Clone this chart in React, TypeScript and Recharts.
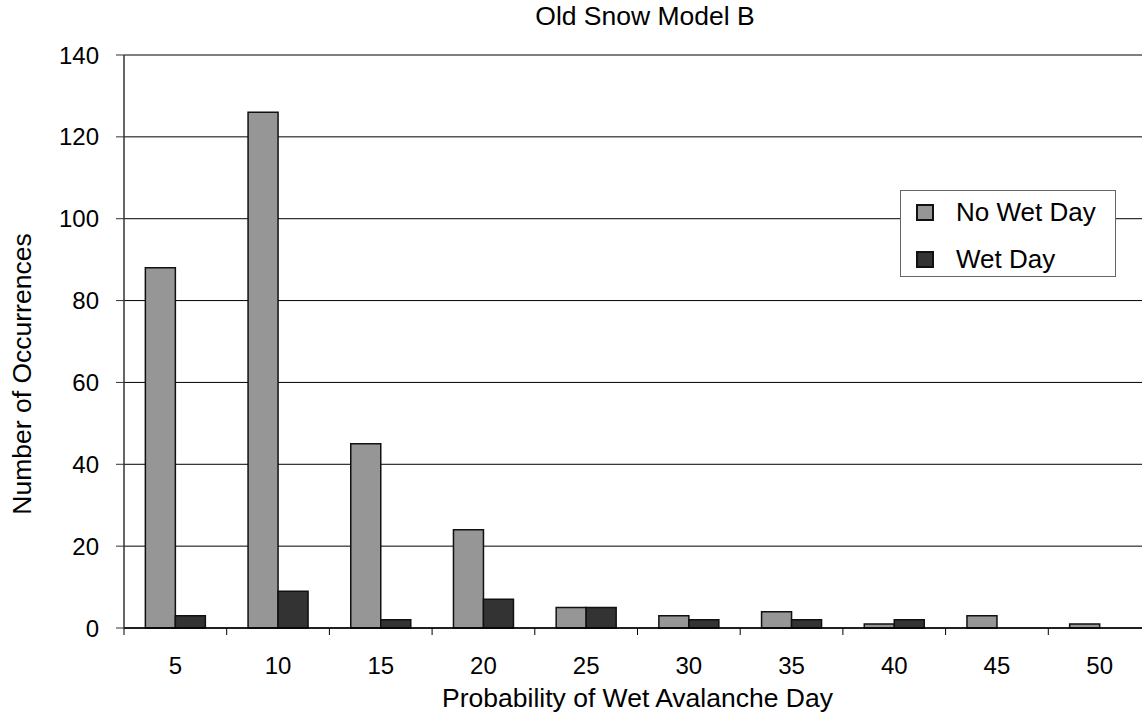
import React from "react";
import { Bar, BarChart, CartesianGrid, Legend, XAxis, YAxis } from "recharts";

const categories = ["5", "10", "15", "20", "25", "30", "35", "40", "45", "50"];
const noWetDay = [88, 126, 45, 24, 5, 3, 4, 1, 3, 1];
const wetDay = [3, 9, 2, 7, 5, 2, 2, 2, 0, 0];
const yTicks = [0, 20, 40, 60, 80, 100, 120, 140];

const data = categories.map((prob, i) => ({
  prob,
  noWet: noWetDay[i],
  wet: wetDay[i],
}));

const FONT = '"Liberation Sans", Arial, sans-serif';
const X_TICK_MARGIN = 29;
const X_TICK_LEN = 7;

const CategoryTick = (props: any) => {
  const { x, y, payload, index, visibleTicksCount } = props;
  const half = payload && payload.offset ? payload.offset : 0;
  const axisY = y - X_TICK_MARGIN;
  const isLast = index === visibleTicksCount - 1;
  return (
    <g>
      <line x1={x - half} x2={x - half} y1={axisY} y2={axisY + X_TICK_LEN} stroke="#000" />
      {isLast && (
        <line x1={x + half} x2={x + half} y1={axisY} y2={axisY + X_TICK_LEN} stroke="#000" />
      )}
      <text x={x} y={y} dy="0.71em" textAnchor="middle" fontSize={24} fontFamily={FONT} fill="#000">
        {payload.value}
      </text>
    </g>
  );
};

const LegendBox = () => {
  const items = [
    { label: "No Wet Day", color: "#969696" },
    { label: "Wet Day", color: "#333333" },
  ];
  return (
    <div
      style={{
        width: 216,
        height: 87,
        border: "1px solid #666",
        background: "#fff",
        boxSizing: "border-box",
        position: "relative",
        fontFamily: FONT,
        fontSize: 26,
        color: "#000",
      }}
    >
      {items.map((it, i) => (
        <div
          key={it.label}
          style={{
            position: "absolute",
            left: 15,
            top: 4 + i * 47,
            height: 34,
            display: "flex",
            alignItems: "center",
            whiteSpace: "nowrap",
          }}
        >
          <span
            style={{
              width: 14,
              height: 13,
              background: it.color,
              border: "2px solid #111",
              display: "inline-block",
              marginRight: 22,
            }}
          />
          <span>{it.label}</span>
        </div>
      ))}
    </div>
  );
};

const App: React.FC = () => {
  return (
    <div
      style={{
        position: "fixed",
        left: 0,
        top: 0,
        width: 1142,
        height: 713,
        overflow: "hidden",
        background: "#fff",
        fontFamily: FONT,
      }}
    >
      <div
        style={{
          position: "absolute",
          left: 0,
          width: 1290,
          top: 1,
          textAlign: "center",
          fontSize: 26.5,
          lineHeight: "30px",
          color: "#000",
        }}
      >
        Old Snow Model B
      </div>
      <div
        style={{
          position: "absolute",
          left: 22,
          top: 374,
          transform: "translate(-50%, -50%) rotate(-90deg)",
          whiteSpace: "nowrap",
          fontSize: 26.5,
          lineHeight: "30px",
          color: "#000",
        }}
      >
        Number of Occurrences
      </div>
      <div
        style={{
          position: "absolute",
          left: 0,
          width: 1275,
          top: 683,
          textAlign: "center",
          fontSize: 26.5,
          lineHeight: "30px",
          color: "#000",
        }}
      >
        Probability of Wet Avalanche Day
      </div>
      <BarChart
        width={1160}
        height={713}
        data={data}
        margin={{ top: 55, right: 9, left: 0, bottom: 0 }}
        barCategoryGap="20.8%"
        barGap={0}
      >
        <CartesianGrid horizontal vertical={false} stroke="#000" strokeOpacity={1} />
        <XAxis
          dataKey="prob"
          height={85}
          tickLine={false}
          tickSize={0}
          tickMargin={X_TICK_MARGIN}
          tick={<CategoryTick />}
          axisLine={{ stroke: "#000", strokeWidth: 1.5 }}
          interval={0}
        />
        <YAxis
          width={124}
          domain={[0, 140]}
          ticks={yTicks}
          interval={0}
          tickSize={8}
          tickMargin={17}
          axisLine={{ stroke: "#333", strokeWidth: 1.5 }}
          tickLine={{ stroke: "#333" }}
          tick={{ fontSize: 24, fill: "#000", fontFamily: FONT }}
        />
        <Legend
          layout="vertical"
          align="center"
          verticalAlign="middle"
          content={<LegendBox />}
          wrapperStyle={{ position: "absolute", left: 900, top: 190, width: 216 }}
        />
        <Bar dataKey="noWet" name="No Wet Day" fill="#969696" stroke="#111" strokeWidth={1.5} isAnimationActive={false} />
        <Bar dataKey="wet" name="Wet Day" fill="#333333" stroke="#111" strokeWidth={1.5} isAnimationActive={false} />
      </BarChart>
    </div>
  );
};

export default App;
